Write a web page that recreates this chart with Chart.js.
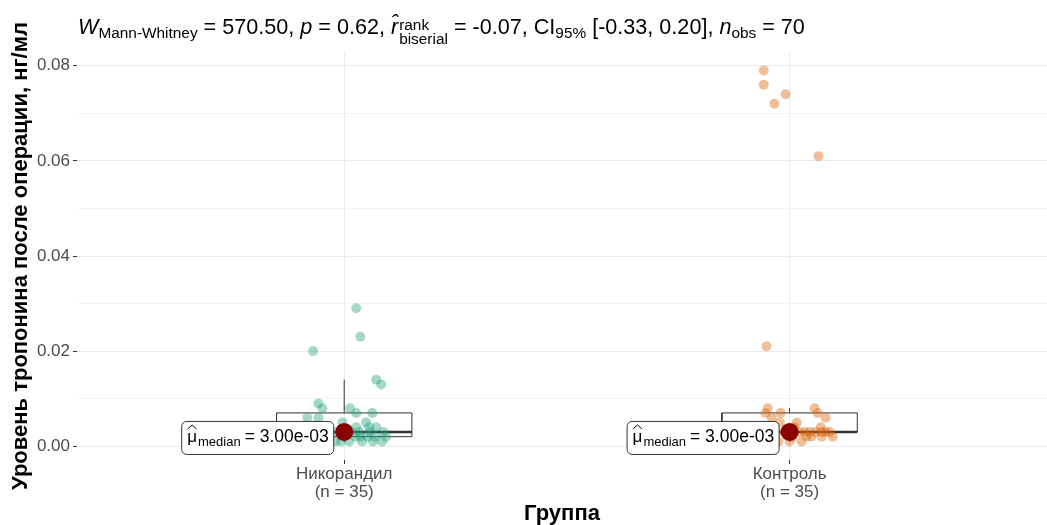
<!DOCTYPE html>
<html>
<head>
<meta charset="utf-8">
<script src="https://cdn.jsdelivr.net/npm/chart.js@4"></script>
<style>
  body { margin: 0; background: #fff; }
  #wrap { position: relative; width: 1047px; height: 525px; }
  #title {
    position: absolute; left: 78px; top: 15px;
    font-family: 'Liberation Sans', Arial, sans-serif; font-size: 21.6px;
    white-space: nowrap; color: #000; line-height: 24px;
  }
  #title sub { font-size: 15.4px; vertical-align: -4px; line-height: 0; }
  #title .stack { display: inline-block; vertical-align: -10px; font-size: 15.4px; line-height: 14px; margin-left: 1px; }
  #title .stack span { display: block; }
</style>
</head>
<body>
<div id="wrap">
  <canvas id="chart" width="1047" height="525"></canvas>
  <div id="title"><i>W</i><sub>Mann-Whitney</sub> = 570.50, <i>p</i> = 0.62, <i>r&#770;</i><span class="stack"><span>rank</span><span>biserial</span></span> = -0.07, CI<sub>95%</sub> [-0.33, 0.20], <i>n</i><sub>obs</sub> = 70</div>
</div>
<script>
// Data
const categories = ['Никорандил', 'Контроль'];
const groupCounts = [35, 35];

const nicorandilValues = [
  0.029, 0.023, 0.020, 0.014, 0.013, 0.009, 0.008, 0.008, 0.007, 0.007,
  0.006, 0.006, 0.005, 0.005, 0.004, 0.004, 0.004, 0.003, 0.003, 0.003,
  0.003, 0.003, 0.003, 0.002, 0.002, 0.002, 0.002, 0.002, 0.002, 0.001,
  0.001, 0.001, 0.001, 0.001, 0.001
];
const nicorandilJitter = [
  0.027, 0.036, -0.070, 0.072, 0.083, -0.058, -0.049, 0.013, 0.027, 0.063,
  -0.083, -0.058, -0.004, 0.049, 0.056, 0.072, 0.027, 0.034, 0.058, -0.034,
  -0.016, 0.088, 0.016, 0.025, 0.036, 0.052, 0.070, 0.094, -0.045, 0.011,
  0.040, 0.065, 0.085, -0.020, -0.007
];

const controlValues = [
  0.079, 0.076, 0.074, 0.072, 0.061, 0.021, 0.008, 0.008, 0.007, 0.007,
  0.007, 0.006, 0.006, 0.005, 0.005, 0.004, 0.004, 0.003, 0.003, 0.003,
  0.003, 0.003, 0.003, 0.003, 0.003, 0.003, 0.003, 0.002, 0.002, 0.002,
  0.002, 0.002, 0.001, 0.001, 0.001
];
const controlJitter = [
  -0.058, -0.058, -0.009, -0.034, 0.065, -0.052, -0.049, 0.056, -0.054, 0.063,
  -0.020, 0.081, -0.040, 0.016, -0.022, 0.011, 0.070, 0.045, 0.072, 0.081,
  0.022, -0.013, -0.031, -0.049, 0.058, 0.090, 0.034, 0.038, 0.072, 0.097,
  0.007, 0.049, 0.000, 0.027, -0.025
];

const yMajorTicks = [0, 0.02, 0.04, 0.06, 0.08];
const yMinorTicks = [0.01, 0.03, 0.05, 0.07];

const FONT = "'Liberation Sans', Arial, sans-serif";
const BOX_HALF = 0.152;

// Box statistics (quantile type 7, like R)
function quantile(sorted, p) {
  const h = (sorted.length - 1) * p;
  const lo = Math.floor(h);
  const hi = Math.ceil(h);
  return sorted[lo] + (sorted[hi] - sorted[lo]) * (h - lo);
}

function boxStats(values) {
  const s = [...values].sort((a, b) => a - b);
  const q1 = quantile(s, 0.25);
  const med = quantile(s, 0.5);
  const q3 = quantile(s, 0.75);
  const iqr = q3 - q1;
  const upper = Math.max(...s.filter(v => v <= q3 + 1.5 * iqr));
  const lower = Math.min(...s.filter(v => v >= q1 - 1.5 * iqr));
  return { q1, med, q3, upper, lower };
}

const groups = [
  { values: nicorandilValues, jitter: nicorandilJitter, color: 'rgba(27,158,119,0.4)' },
  { values: controlValues, jitter: controlJitter, color: 'rgba(217,95,2,0.4)' }
];

const datasets = [];

groups.forEach((g, i) => {
  const c = i + 1;
  const st = boxStats(g.values);
  g.stats = st;

  const lineBase = {
    type: 'line', showLine: true, pointRadius: 0, fill: false,
    borderColor: '#333333', borderWidth: 1, order: 3, tension: 0
  };
  datasets.push({ ...lineBase, data: [
    { x: c - BOX_HALF, y: st.q1 }, { x: c + BOX_HALF, y: st.q1 },
    { x: c + BOX_HALF, y: st.q3 }, { x: c - BOX_HALF, y: st.q3 },
    { x: c - BOX_HALF, y: st.q1 }
  ] });
  datasets.push({ ...lineBase, data: [{ x: c, y: st.q3 }, { x: c, y: st.upper }] });
  datasets.push({ ...lineBase, data: [{ x: c, y: st.q1 }, { x: c, y: st.lower }] });
  datasets.push({ ...lineBase, borderWidth: 2.5, data: [
    { x: c - BOX_HALF, y: st.med }, { x: c + BOX_HALF, y: st.med }
  ] });

  datasets.push({
    type: 'scatter', order: 2,
    data: g.values.map((v, k) => ({ x: c + g.jitter[k], y: v })),
    backgroundColor: g.color, borderWidth: 0, pointRadius: 5
  });
});

datasets.push({
  type: 'scatter', order: 1,
  data: groups.map((g, i) => ({ x: i + 1, y: g.stats.med })),
  backgroundColor: '#8B0000', borderWidth: 0, pointRadius: 9
});

function formatSci(v) {
  const [m, e] = v.toExponential(2).split('e');
  const n = parseInt(e, 10);
  const sign = n < 0 ? '-' : '+';
  return m + 'e' + sign + String(Math.abs(n)).padStart(2, '0');
}

// Median labels, drawn next to the red dots
const medianLabels = {
  id: 'medianLabels',
  afterDatasetsDraw(chart) {
    const { ctx, scales } = chart;
    groups.forEach((g, i) => {
      const px = scales.x.getPixelForValue(i + 1);
      const py = scales.y.getPixelForValue(g.stats.med);
      const w = 152, h = 33;
      const left = px - 11 - w;
      const top = py - 11;
      ctx.save();
      ctx.beginPath();
      ctx.roundRect(left + 0.5, top + 0.5, w, h, 5);
      ctx.fillStyle = '#fff';
      ctx.fill();
      ctx.strokeStyle = '#333';
      ctx.lineWidth = 1;
      ctx.stroke();

      const base = top + 21;
      ctx.fillStyle = '#000';
      ctx.textBaseline = 'alphabetic';
      ctx.font = '17px ' + FONT;
      let x = left + 6;
      ctx.fillText('μ', x, base);
      const muW = ctx.measureText('μ').width;
      // hat
      ctx.beginPath();
      ctx.moveTo(x + 0.5, base - 13);
      ctx.lineTo(x + muW / 2, base - 17);
      ctx.lineTo(x + muW - 0.5, base - 13);
      ctx.lineWidth = 1;
      ctx.strokeStyle = '#000';
      ctx.stroke();
      x += muW + 1;
      ctx.font = '13px ' + FONT;
      ctx.fillText('median', x, base + 4);
      x += ctx.measureText('median').width + 4;
      ctx.font = '17.5px ' + FONT;
      ctx.fillText('= ' + formatSci(g.stats.med), x, base);
      ctx.restore();
    });
  }
};

new Chart(document.getElementById('chart'), {
  type: 'scatter',
  data: { datasets },
  options: {
    responsive: false,
    animation: false,
    layout: { autoPadding: false, padding: { top: 52, right: 0, left: 0, bottom: 0 } },
    plugins: { legend: { display: false }, tooltip: { enabled: false } },
    scales: {
      x: {
        type: 'linear', min: 0.4, max: 2.578,
        afterBuildTicks: s => { s.ticks = categories.map((_, i) => ({ value: i + 1 })); },
        afterFit: s => { s.height = 65; },
        border: { display: false },
        grid: { color: '#EBEBEB', lineWidth: 1, tickColor: '#333333', tickLength: 4 },
        ticks: {
          color: '#4D4D4D', padding: 1, maxRotation: 0,
          font: { family: FONT, size: 17, lineHeight: 1.08 },
          callback: v => {
            const i = Math.round(v) - 1;
            return [categories[i], '(n = ' + groupCounts[i] + ')'];
          }
        },
        title: {
          display: true, text: 'Группа', color: '#000',
          font: { family: FONT, size: 22, weight: 'bold', lineHeight: 1 },
          padding: { top: 0, bottom: 0 }
        }
      },
      y: {
        type: 'linear', min: -0.0029, max: 0.0829,
        afterBuildTicks: s => {
          s.ticks = [...yMajorTicks, ...yMinorTicks].sort((a, b) => a - b).map(v => ({ value: v }));
        },
        afterFit: s => { s.width = 77; },
        border: { display: false },
        grid: {
          color: '#EBEBEB',
          lineWidth: c => (yMajorTicks.includes(c.tick.value) ? 1 : 0.6),
          tickColor: c => (yMajorTicks.includes(c.tick.value) ? '#333333' : 'rgba(0,0,0,0)'),
          tickWidth: 1,
          tickLength: 4
        },
        ticks: {
          color: '#4D4D4D', padding: 3,
          font: { family: FONT, size: 17 },
          callback: v => (yMajorTicks.includes(v) ? v.toFixed(2) : '')
        },
        title: {
          display: true, text: 'Уровень тропонина после операции, нг/мл', color: '#000',
          font: { family: FONT, size: 22, weight: 'bold', lineHeight: 1.2 },
          padding: { top: 8, bottom: 0 }
        }
      }
    }
  },
  plugins: [medianLabels]
});
</script>
</body>
</html>
